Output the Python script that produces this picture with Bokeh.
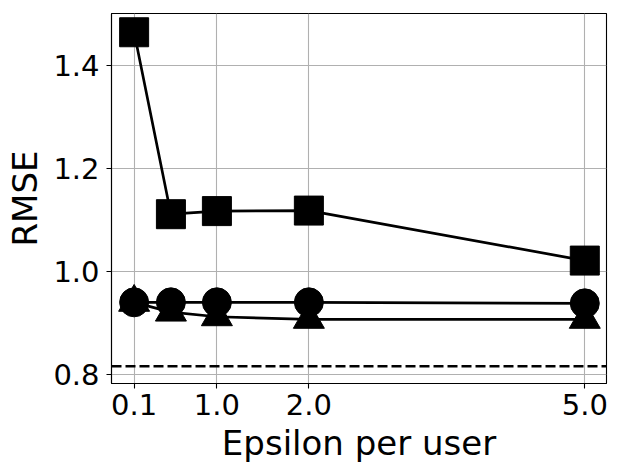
from bokeh.plotting import figure
from bokeh.models import Range1d, FixedTicker, Span
from bokeh.embed import file_html
from bokeh.resources import INLINE

eps = [0.1, 0.5, 1.0, 2.0, 5.0]
rmse_square = [1.464, 1.111, 1.117, 1.118, 1.021]
rmse_circle = [0.940, 0.940, 0.940, 0.940, 0.938]
rmse_triangle = [0.940, 0.921, 0.912, 0.907, 0.907]
baseline = 0.816
x_ticks = [0.1, 1.0, 2.0, 5.0]
x_tick_labels = ["0.1", "1.0", "2.0", "5.0"]
y_ticks = [0.8, 1.0, 1.2, 1.4]
y_tick_labels = ["0.8", "1.0", "1.2", "1.4"]

FONT = "DejaVu Sans"

p = figure(width=619, height=473, output_backend="svg", toolbar_location=None,
           x_range=Range1d(-0.146, 5.236), y_range=Range1d(0.7825, 1.5004),
           min_border_left=111, min_border_right=13, min_border_top=13, min_border_bottom=90)

p.background_fill_color = "white"
p.border_fill_color = "white"
p.outline_line_color = "black"
p.outline_line_width = 1.1

p.xaxis.ticker = FixedTicker(ticks=x_ticks)
p.yaxis.ticker = FixedTicker(ticks=y_ticks)
p.xaxis.major_label_overrides = {t: l for t, l in zip(x_ticks, x_tick_labels)}
p.yaxis.major_label_overrides = {t: l for t, l in zip(y_ticks, y_tick_labels)}

for ax in (p.xaxis, p.yaxis):
    ax.axis_line_color = "black"
    ax.axis_line_width = 1.1
    ax.major_tick_line_color = "black"
    ax.major_tick_line_width = 1.1
    ax.major_tick_out = 5
    ax.major_tick_in = 0
    ax.minor_tick_line_color = None
    ax.major_label_text_font = FONT
    ax.major_label_text_font_size = "29px"
    ax.major_label_text_color = "black"
    ax.axis_label_text_font = FONT
    ax.axis_label_text_font_size = "34px"
    ax.axis_label_text_font_style = "normal"
    ax.axis_label_text_color = "black"

p.xaxis.axis_label = "Epsilon per user"
p.yaxis.axis_label = "RMSE"
p.xaxis.major_label_standoff = 5
p.yaxis.major_label_standoff = 7
p.xaxis.axis_label_standoff = 5
p.yaxis.axis_label_standoff = 5

p.grid.grid_line_color = "#b0b0b0"
p.grid.grid_line_width = 1.1

p.line(eps, rmse_square, line_color="black", line_width=2.7)
p.scatter(eps, rmse_square, marker="square", size=29, fill_color="black", line_color="black")
p.line(eps, rmse_circle, line_color="black", line_width=2.7)
p.scatter(eps, rmse_circle, marker="circle", size=29, fill_color="black", line_color="black")
p.line(eps, rmse_triangle, line_color="black", line_width=2.7)
p.scatter(eps, rmse_triangle, marker="triangle", size=31, fill_color="black", line_color="black")

p.add_layout(Span(location=baseline, dimension="width", line_color="black",
                  line_width=2.7, line_dash="10 4"))

open("out.html", "w").write(file_html(p, INLINE))
